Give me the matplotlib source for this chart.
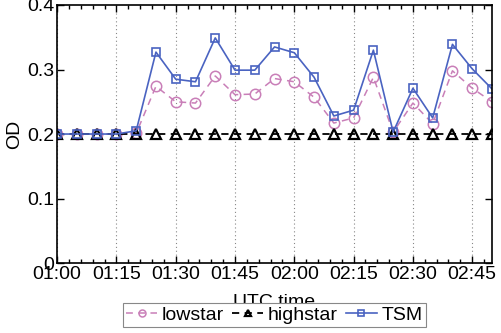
import matplotlib
matplotlib.use("Agg")
import matplotlib.pyplot as plt
from matplotlib.ticker import MultipleLocator

plt.rcParams["font.family"] = ["Liberation Sans", "DejaVu Sans"]

times = ["01:00", "01:05", "01:10", "01:15", "01:20", "01:25", "01:30", "01:35",
         "01:40", "01:45", "01:50", "01:55", "02:00", "02:05", "02:10", "02:15",
         "02:20", "02:25", "02:30", "02:35", "02:40", "02:45", "02:50"]
lowstar = [0.200, 0.200, 0.200, 0.200, 0.201, 0.274, 0.250, 0.248, 0.290, 0.261,
           0.262, 0.286, 0.281, 0.257, 0.217, 0.225, 0.288, 0.203, 0.248, 0.216,
           0.298, 0.271, 0.250]
highstar = [0.2] * 23
tsm = [0.200, 0.200, 0.200, 0.200, 0.205, 0.327, 0.285, 0.281, 0.349, 0.299,
       0.299, 0.335, 0.326, 0.288, 0.228, 0.237, 0.330, 0.203, 0.271, 0.225,
       0.339, 0.301, 0.270]
xtick_labels = ["01:00", "01:15", "01:30", "01:45", "02:00", "02:15", "02:30", "02:45"]
ytick_labels = ["0", "0.1", "0.2", "0.3", "0.4"]


def minutes(t):
    h, m = t.split(":")
    return int(h) * 60 + int(m)


x = [minutes(t) for t in times]
xt = [minutes(t) for t in xtick_labels]

PINK, BLUE = "#c97fb8", "#4a63c1"
FS = 14

fig = plt.figure(figsize=(5.01, 3.33), dpi=100)
ax = fig.add_axes([0.114, 0.21, 0.868, 0.775])

ax.plot(x, lowstar, ls=(0, (4.5, 3.5)), color=PINK, lw=1.1, marker="o", ms=7.5,
        mfc="none", mec=PINK, mew=1.1, label="lowstar")
ax.plot(x, highstar, ls=(0, (4, 3)), color="black", lw=1.3, marker="^", ms=6.5,
        mfc="none", mec="black", mew=1.6, label="highstar")
ax.plot(x, tsm, ls="-", color=BLUE, lw=1.2, marker="s", ms=6,
        mfc="none", mec=BLUE, mew=1.2, label="TSM")

ax.set_xlim(x[0], x[-1])
ax.set_ylim(0, 0.4)
ax.set_xticks(xt)
ax.set_xticklabels(xtick_labels)
ax.xaxis.set_minor_locator(MultipleLocator(3))
ax.set_yticks([0, 0.1, 0.2, 0.3, 0.4])
ax.set_yticklabels(ytick_labels)
ax.tick_params(which="both", direction="in", top=True, right=True, labelsize=FS,
               width=1.0, pad=2)
ax.tick_params(which="major", length=5)
ax.tick_params(which="minor", length=3)
for s in ax.spines.values():
    s.set_linewidth(1.2)
ax.grid(axis="x", which="major", ls=(0, (1, 2.5)), color="#888888", lw=0.8)

ax.set_ylabel("OD", fontsize=FS, labelpad=3)
ax.set_xlabel("UTC time", fontsize=FS, labelpad=8)

leg = ax.legend(loc="upper center", bbox_to_anchor=(0.5, -0.155), ncol=3,
                fontsize=FS, frameon=True, fancybox=False, handlelength=1.6,
                handletextpad=0.25, columnspacing=0.4, borderpad=0.15,
                borderaxespad=0, framealpha=1)
leg.get_frame().set_edgecolor("#888888")
leg.get_frame().set_linewidth(0.8)
leg.set_zorder(5)
for h in leg.legend_handles:
    h.set_markersize(5)

fig.savefig("out.png", dpi=100, facecolor="white")
